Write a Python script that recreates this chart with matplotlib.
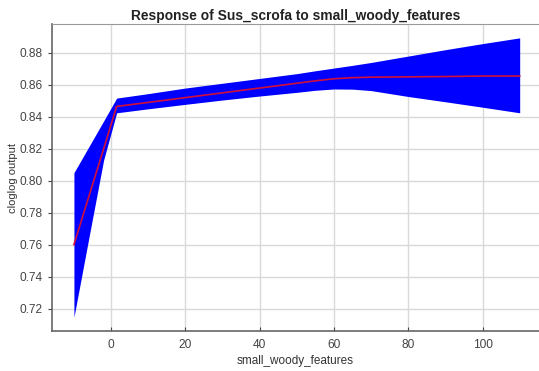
import matplotlib
matplotlib.use("Agg")
import matplotlib.pyplot as plt

# response curve
x_vals = [-10, -6, -2, 1.5, 10, 20, 30, 40, 50, 55, 60, 65, 70, 80, 90, 100, 110]
mean_vals = [0.760, 0.790, 0.820, 0.8465, 0.849, 0.852, 0.855, 0.858, 0.861,
             0.8625, 0.8638, 0.8645, 0.8648, 0.8650, 0.8652, 0.8655, 0.8655]
upper_vals = [0.805, 0.8212, 0.8374, 0.8517, 0.8545, 0.858, 0.861, 0.864, 0.867,
              0.8688, 0.8705, 0.8722, 0.8740, 0.8780, 0.8820, 0.8858, 0.8894]
lower_vals = [0.7146, 0.7640, 0.8130, 0.8425, 0.8450, 0.8478, 0.8505, 0.8530, 0.8553,
              0.8566, 0.8574, 0.8573, 0.8564, 0.8527, 0.8494, 0.8460, 0.8425]

x_ticks = [0, 20, 40, 60, 80, 100]
y_ticks = [0.72, 0.74, 0.76, 0.78, 0.80, 0.82, 0.84, 0.86, 0.88]

plt.rcParams['font.family'] = ['Liberation Sans', 'DejaVu Sans']

fig = plt.figure(figsize=(5.39, 3.71), dpi=100)
ax = fig.add_axes([0.0965, 0.108, 0.9035, 0.827])

ax.fill_between(x_vals, lower_vals, upper_vals, color='#0000ff', linewidth=0, zorder=2)
ax.plot(x_vals, mean_vals, color='#d0103a', linewidth=1.2, zorder=3)

ax.set_xlim(-15.9, 115.2)
ax.set_ylim(0.706, 0.898)
ax.set_xticks(x_ticks)
ax.set_yticks(y_ticks)
ax.set_yticklabels([f"{v:.2f}" for v in y_ticks])
ax.grid(True, color='#d9d9d9', linewidth=1.0, zorder=0)
ax.set_axisbelow(True)

for side in ['left', 'bottom']:
    ax.spines[side].set_color('#666666')
    ax.spines[side].set_linewidth(1.2)
ax.spines['top'].set_color('#999999')
ax.spines['right'].set_visible(False)

ax.tick_params(axis='both', labelsize=8.6, colors='#444444', length=3, width=0.8)
ax.tick_params(axis='x', direction='in', pad=6)
ax.tick_params(axis='y', direction='out')

ax.set_xlabel('small_woody_features', fontsize=8.5, color='#333333', labelpad=3)
ax.set_ylabel('cloglog output', fontsize=8, color='#333333', labelpad=1)
ax.set_title('Response of Sus_scrofa to small_woody_features', fontsize=9.9,
             fontweight='bold', color='#222222', pad=3)

fig.savefig('out.png', dpi=100)
